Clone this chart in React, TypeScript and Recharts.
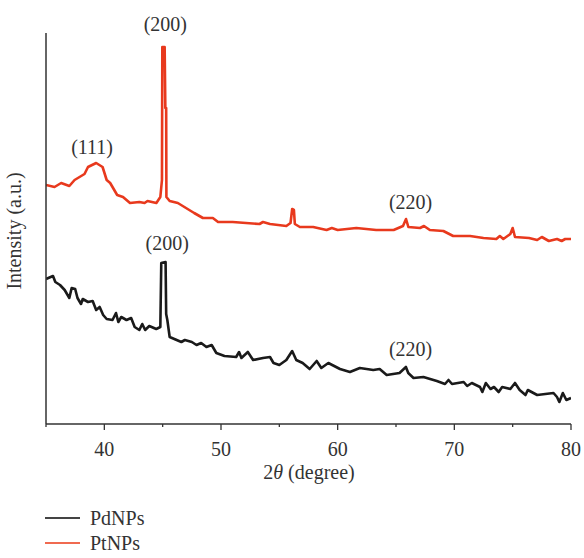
import React from 'react';
import { LineChart, Line, XAxis, YAxis, ReferenceDot, Label } from 'recharts';

// 2θ positions (degree) and intensities (a.u.)
const ptTheta = [35.0, 35.73, 36.3, 37.0, 37.45, 38.3, 38.6, 39.3, 39.85, 40.2, 40.5, 41.1, 41.6, 42.2, 43.0, 43.45, 43.7, 44.46, 44.8, 44.94, 44.97, 45.17, 45.23, 45.3, 45.32, 45.6, 46.3, 47.0, 47.7, 48.45, 49.3, 49.75, 51.0, 53.3, 53.6, 54.2, 55.6, 55.96, 56.1, 56.25, 56.33, 56.76, 57.9, 59.05, 59.5, 60.0, 61.6, 63.3, 64.8, 65.6, 65.86, 66.06, 67.06, 67.4, 67.9, 69.06, 69.9, 71.35, 72.5, 73.6, 73.9, 74.2, 74.8, 75.0, 75.2, 76.4, 77.1, 77.5, 78.1, 78.8, 79.2, 79.5, 80.0];
const ptIntensity = [239, 237, 241, 238, 244, 250, 257, 261, 257, 244, 241, 229, 227, 221, 222, 221, 223, 221, 227, 244, 377, 377, 316, 316, 227, 223, 221, 216, 211, 206, 206, 202, 202, 200, 202, 200, 198, 201, 215, 214, 200, 197, 197, 194, 196, 194, 196, 194, 194, 198, 205, 197, 196, 198, 194, 193, 188, 188, 186, 185, 188, 185, 190, 196, 187, 186, 184, 187, 183, 185, 183, 185, 185];

const pdTheta = [35.0, 35.6, 35.8, 36.2, 36.6, 37.0, 37.2, 37.5, 37.7, 38.0, 38.15, 38.6, 39.0, 39.3, 39.6, 39.9, 40.2, 40.7, 41.0, 41.2, 41.45, 41.9, 42.3, 42.6, 43.0, 43.25, 43.5, 43.85, 44.45, 44.8, 44.88, 45.25, 45.3, 45.4, 45.6, 46.2, 46.6, 46.9, 47.5, 47.9, 48.3, 48.75, 49.2, 49.6, 50.3, 51.3, 51.55, 51.75, 52.3, 52.75, 53.6, 54.2, 54.5, 55.0, 55.6, 56.1, 56.45, 57.0, 57.6, 58.2, 58.6, 59.2, 60.2, 61.05, 61.9, 63.05, 63.6, 64.2, 65.3, 65.85, 66.05, 66.5, 67.35, 68.5, 69.2, 69.5, 69.8, 70.8, 71.1, 71.5, 72.2, 72.4, 72.7, 73.1, 73.4, 73.8, 74.1, 74.8, 75.2, 75.6, 76.1, 76.3, 77.1, 78.5, 78.8, 79.0, 79.3, 79.6, 80.0];
const pdIntensity = [145, 148, 142, 139, 134, 126, 136, 135, 126, 120, 125, 122, 123, 114, 117, 109, 105, 104, 111, 102, 107, 104, 106, 97, 94, 100, 94, 98, 95, 97, 161, 162, 110, 104, 87, 84, 82, 84, 82, 79, 81, 77, 79, 71, 68, 67, 72, 66, 72, 64, 66, 67, 61, 59, 64, 73, 64, 61, 55, 63, 56, 61, 55, 52, 56, 54, 55, 49, 51, 57, 51, 46, 47, 43, 40, 44, 40, 42, 38, 41, 37, 32, 41, 35, 37, 32, 37, 35, 41, 34, 29, 34, 29, 31, 27, 22, 31, 24, 26];

const xTicks = [35, 40, 45, 50, 55, 60, 65, 70, 75, 80];

const peakTexts = ['(111)', '(200)', '(220)', '(200)', '(220)'];
const peakTheta = [38.95, 45.23, 66.25, 45.39, 66.25];
const peakIntensity = [277, 400, 222, 181, 75];

const seriesNames = ['PdNPs', 'PtNPs'];
const seriesColors = ['#1a1a1a', '#e8391d'];
const legendColors = ['#444444', '#f06a50'];

const ptData = ptTheta.map((t, i) => ({ theta: t, pt: ptIntensity[i] }));
const pdData = pdTheta.map((t, i) => ({ theta: t, pd: pdIntensity[i] }));

const FONT = '"Liberation Serif", "DejaVu Serif", serif';
const TEXT = '#333333';
const FS = 20;

const XTick = (props: any) => {
  const { x, y, payload } = props;
  const major = payload.value % 10 === 0;
  return (
    <g>
      <line x1={x} x2={x} y1={y} y2={y + (major ? 6 : 3)} stroke="#333" strokeWidth={1.3} />
      {major && payload.value !== 35 && (
        <text x={x} y={y + 25} textAnchor="middle" dominantBaseline="central" fontFamily={FONT} fontSize={FS} fill={TEXT}>
          {payload.value}
        </text>
      )}
    </g>
  );
};

export default function App() {
  return (
    <div style={{ position: 'absolute', left: 0, top: 0, width: 584, height: 558 }}>
      <LineChart width={584} height={558} margin={{ top: 33, right: 13, bottom: 74, left: 26 }}>
        <XAxis
          type="number"
          dataKey="theta"
          domain={[35, 80]}
          ticks={xTicks}
          interval={0}
          allowDataOverflow
          height={60}
          tickSize={0}
          tickMargin={0}
          tickLine={false}
          axisLine={{ stroke: '#333', strokeWidth: 1.5 }}
          tick={<XTick />}
        >
          <Label
            content={() => (
              <text x={309} y={472} textAnchor="middle" dominantBaseline="central" fontFamily={FONT} fontSize={FS} fill={TEXT}>
                2<tspan fontStyle="italic">θ</tspan> (degree)
              </text>
            )}
          />
        </XAxis>
        <YAxis
          type="number"
          domain={[0, 391]}
          allowDataOverflow
          width={20}
          tick={false}
          tickLine={false}
          axisLine={{ stroke: '#333', strokeWidth: 1.5 }}
        >
          <Label
            content={() => (
              <text transform="translate(14,231) rotate(-90)" textAnchor="middle" dominantBaseline="central" fontFamily={FONT} fontSize={FS} fill={TEXT}>
                Intensity (a.u.)
              </text>
            )}
          />
        </YAxis>
        <Line data={pdData} dataKey="pd" name={seriesNames[0]} type="linear" stroke={seriesColors[0]} strokeWidth={2.6} dot={false} isAnimationActive={false} strokeLinejoin="round" />
        <Line data={ptData} dataKey="pt" name={seriesNames[1]} type="linear" stroke={seriesColors[1]} strokeWidth={2.6} dot={false} isAnimationActive={false} strokeLinejoin="round" />
        {peakTexts.map((txt, i) => (
          <ReferenceDot
            key={i}
            x={peakTheta[i]}
            y={peakIntensity[i]}
            r={0}
            fill="none"
            stroke="none"
            ifOverflow="visible"
            label={{ value: txt, position: 'center', fontFamily: FONT, fontSize: FS, fill: TEXT }}
          />
        ))}
      </LineChart>
      {seriesNames.map((name, i) => (
        <div key={name} style={{ position: 'absolute', left: 45, top: 518 + i * 25 - 12, height: 24, display: 'flex', alignItems: 'center', fontFamily: FONT, fontSize: FS, color: TEXT }}>
          <span style={{ display: 'inline-block', width: 35, height: 2, background: legendColors[i], marginRight: 10 }} />
          <span>{name}</span>
        </div>
      ))}
    </div>
  );
}
